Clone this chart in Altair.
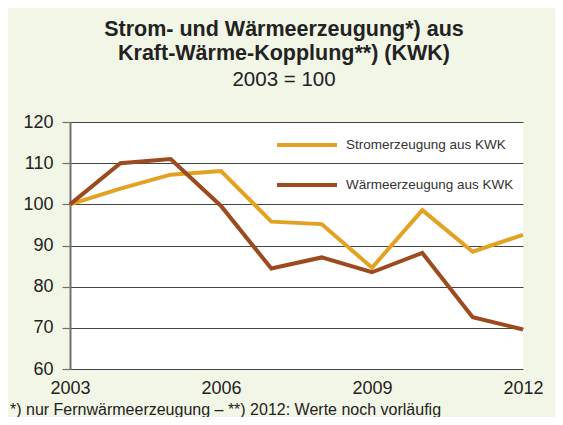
import altair as alt
import pandas as pd

years = [2003, 2004, 2005, 2006, 2007, 2008, 2009, 2010, 2011, 2012]
strom = [100, 103.8, 107.2, 108.1, 95.8, 95.2, 84.6, 98.6, 88.5, 92.6]
waerme = [100, 110.0, 111.0, 99.6, 84.4, 87.1, 83.5, 88.2, 72.6, 69.6]
series_names = ["Stromerzeugung aus KWK", "Wärmeerzeugung aus KWK"]
series_colors = ["#E3A222", "#9C4A1E"]
x_ticks = [2003, 2006, 2009, 2012]
y_ticks = [60, 70, 80, 90, 100, 110, 120]
title_text = "Strom- und Wärmeerzeugung*) aus\nKraft-Wärme-Kopplung**) (KWK)"
subtitle = "2003 = 100"
footnote = "*) nur Fernwärmeerzeugung – **) 2012: Werte noch vorläufig"

FONT = "Liberation Sans"

rows = []
for y, s, w in zip(years, strom, waerme):
    rows.append({"Jahr": y, "Serie": series_names[0], "Wert": s})
    rows.append({"Jahr": y, "Serie": series_names[1], "Wert": w})
df = pd.DataFrame(rows)

lines = alt.Chart(df).mark_line(strokeWidth=4, strokeJoin="miter").encode(
    x=alt.X("Jahr:Q", scale=alt.Scale(domain=[2003, 2012], nice=False, zero=False),
            axis=alt.Axis(values=x_ticks, format="d", title=None, grid=False, domain=False,
                          ticks=False, labelFontSize=18, labelColor="#222", labelFont=FONT,
                          labelPadding=10, labelFlush=False)),
    y=alt.Y("Wert:Q", scale=alt.Scale(domain=[60, 120], nice=False, zero=False),
            axis=alt.Axis(values=y_ticks, title=None, grid=True, gridColor="#444",
                          gridWidth=1.2, domain=True, domainColor="#707070", domainWidth=2,
                          ticks=True, tickSize=8, tickColor="#707070", tickWidth=1.2,
                          labelFontSize=18, labelColor="#222", labelFont=FONT, labelPadding=9)),
    color=alt.Color("Serie:N", scale=alt.Scale(domain=series_names, range=series_colors),
                    legend=alt.Legend(title=None, orient="none", legendX=205, legendY=-9,
                                      symbolType="stroke", symbolSize=3600,
                                      symbolStrokeWidth=4, labelFontSize=13.5,
                                      labelFont=FONT, labelColor="#333", labelOffset=7,
                                      labelLimit=400, rowPadding=-13)),
)

title = alt.Chart(pd.DataFrame({"t": [title_text]})).mark_text(
    fontSize=21.5, fontWeight="bold", font=FONT, color="#222", align="center",
    baseline="top", lineBreak="\n", lineHeight=24).encode(
    x=alt.value(214), y=alt.value(-103), text="t:N")
sub = alt.Chart(pd.DataFrame({"t": [subtitle]})).mark_text(
    fontSize=20.5, font=FONT, color="#222", align="center").encode(
    x=alt.value(214), y=alt.value(-42), text="t:N")
foot = alt.Chart(pd.DataFrame({"t": [footnote]})).mark_text(
    fontSize=16, font=FONT, color="#222", align="left").encode(
    x=alt.value(-60), y=alt.value(288), text="t:N")

chart = alt.layer(lines, title, sub, foot).properties(
    width=453, height=247,
    autosize=alt.AutoSizeParams(type="none"),
    padding={"left": 62, "top": 114, "right": 32, "bottom": 48},
    background="#F2F6E6",
).configure_view(fill="white", stroke=None)

chart.save("out.html", embed_options={"renderer": "svg", "actions": False})
